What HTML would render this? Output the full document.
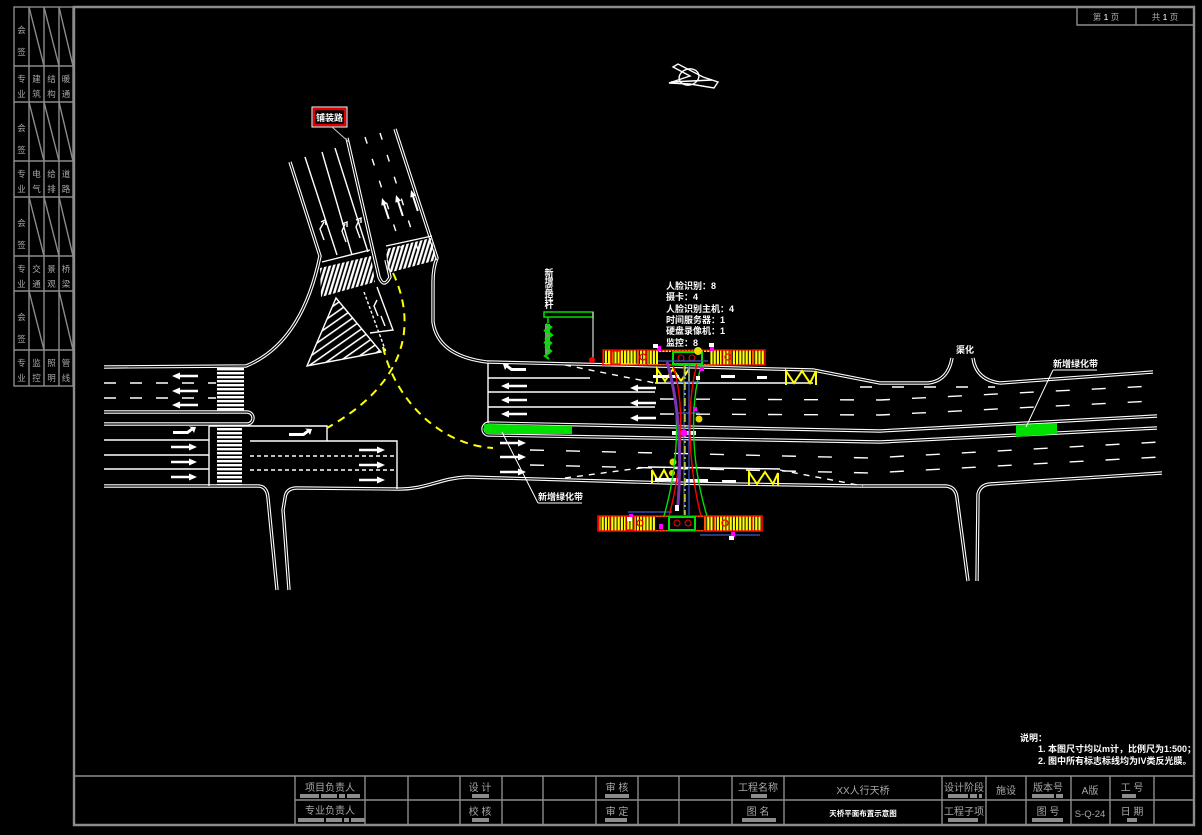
<!DOCTYPE html>
<html><head><meta charset="utf-8"><style>
html,body{margin:0;padding:0;background:#000;}
svg{display:block}
text{font-family:"Liberation Sans","Noto Sans CJK SC",sans-serif;}
.c1{stroke:#fff;stroke-width:3.4;fill:none}
.c2{stroke:#000;stroke-width:1.2;fill:none}
.w{stroke:#fff;stroke-width:1.4;fill:none}
.g{stroke:#8c8c8c;stroke-width:1.4;fill:none}
.gt{fill:#a8a8a8;font-size:10px}
.st{fill:#a8a8a8;font-size:8.5px}
.wt{fill:#fff;font-size:9px;font-weight:bold}
.y{stroke:#ffff00;stroke-width:2;fill:none;stroke-dasharray:8 6}
</style></head><body>
<svg width="1202" height="835" viewBox="0 0 1202 835" xmlns="http://www.w3.org/2000/svg">
<defs>
<pattern id="zh" width="4" height="4" patternUnits="userSpaceOnUse"><rect x="0" y="0" width="4" height="2.4" fill="#fff"/></pattern>
<pattern id="zs" width="4" height="4" patternUnits="userSpaceOnUse" patternTransform="rotate(17)"><rect x="0" y="0" width="2.4" height="4" fill="#fff"/></pattern>
<pattern id="hatch" width="7" height="7" patternUnits="userSpaceOnUse" patternTransform="rotate(-35)"><rect x="0" y="0" width="7" height="1.6" fill="#fff"/></pattern>
<pattern id="stair" width="3.2" height="10" patternUnits="userSpaceOnUse"><rect x="0" y="0" width="2.2" height="10" fill="#ffff00"/></pattern>
<path id="aL" d="M0,0 L8,-3.5 L8,-1.2 L26,-1.2 L26,1.2 L8,1.2 L8,3.5 Z" fill="#fff"/>
<path id="aR" d="M26,0 L18,-3.5 L18,-1.2 L0,-1.2 L0,1.2 L18,1.2 L18,3.5 Z" fill="#fff"/>
<path id="aU" d="M0,0 L-3,7 L-1,7 L-1,22 L1,22 L1,7 L3,7 Z" fill="#fff"/>
<path id="aT" d="M0,-1 L14,-1 L18,-4 L16,-5.5 L23,-5 L21,1 L19.5,-1.5 L15,2 L0,2 Z" fill="#fff"/>
<path id="p1" d="M104,367 L246,366 Q302,343 320,256 L290,162"/>
<path id="p2" d="M104,412 L247,412 A6,6 0 0 1 247,424 L104,424"/>
<path id="p3" d="M104,486 L258,486 Q267,486 268,498 L277,590"/>
<path id="p4" d="M289,590 L284,522 L283,510 L285,498 Q286,488 297,488 L397,489 C425,490 440,478 467,477 L670,483 L860,486 L946,486 Q956,487 957,498 L968,581"/>
<path id="p5" d="M977,581 L978,494 Q980,485 990,484 L1162,473"/>
<path id="p6" d="M395,129 L437,258 Q433,268 433,282 L433,322 Q438,356 487,362 L660,366 L813,370 L880,383 L928,383 Q948,381 952,358"/>
<path id="p7" d="M973,358 Q976,380 1000,383 L1153,372"/>
<path id="p8" d="M1157,416 L880,431 L489,423 A6,6 0 0 0 489,435 L880,442 L1157,428"/>
<path id="p9" d="M347,138 L379,277 Q384,289 390,277 L386,260"/>
</defs>
<rect width="1202" height="835" fill="#000"/>

<!-- left strip -->
<g class="g" stroke-width="1.3">
<rect x="14" y="7" width="59" height="379"/>
<path d="M29,7V386 M44,7V386 M59,7V386 M14,66H73 M14,102H73 M14,161H73 M14,197H73 M14,256H73 M14,291H73 M14,350H73"/>
<path d="M29,7L44,66 M44,7L59,66 M59,7L73,66 M29,102L44,161 M44,102L59,161 M59,102L73,161 M29,197L44,256 M44,197L59,256 M59,197L73,256 M29,291L44,350 M59,291L73,350"/>
</g>
<g class="st" text-anchor="middle">
<text x="21.5" y="33">会</text><text x="21.5" y="55">签</text>
<text x="21.5" y="131">会</text><text x="21.5" y="153">签</text>
<text x="21.5" y="226">会</text><text x="21.5" y="248">签</text>
<text x="21.5" y="320">会</text><text x="21.5" y="342">签</text>
<text x="21.5" y="82">专</text><text x="21.5" y="97">业</text>
<text x="36.5" y="82">建</text><text x="36.5" y="97">筑</text>
<text x="51.5" y="82">结</text><text x="51.5" y="97">构</text>
<text x="66" y="82">暖</text><text x="66" y="97">通</text>
<text x="21.5" y="177">专</text><text x="21.5" y="192">业</text>
<text x="36.5" y="177">电</text><text x="36.5" y="192">气</text>
<text x="51.5" y="177">给</text><text x="51.5" y="192">排</text>
<text x="66" y="177">道</text><text x="66" y="192">路</text>
<text x="21.5" y="272">专</text><text x="21.5" y="287">业</text>
<text x="36.5" y="272">交</text><text x="36.5" y="287">通</text>
<text x="51.5" y="272">景</text><text x="51.5" y="287">观</text>
<text x="66" y="272">桥</text><text x="66" y="287">梁</text>
<text x="21.5" y="366">专</text><text x="21.5" y="381">业</text>
<text x="36.5" y="366">监</text><text x="36.5" y="381">控</text>
<text x="51.5" y="366">照</text><text x="51.5" y="381">明</text>
<text x="66" y="366">管</text><text x="66" y="381">线</text>
</g>

<!-- frame -->
<path d="M74,7 H1194 V825 H74 Z" stroke="#8c8c8c" stroke-width="2.4" fill="none"/>
<!-- page box -->
<path class="g" d="M1077,7 V25 H1194 M1136,7 V25" stroke-width="2"/>
<text x="1106" y="20" class="st" text-anchor="middle" font-size="9">第 <tspan fill="#fff">1</tspan> 页</text>
<text x="1165" y="20" class="st" text-anchor="middle" font-size="9">共 <tspan fill="#fff">1</tspan> 页</text>

<!-- title block -->
<path class="g" d="M74,776 H1194 M295,800 H1194 M295,776 V825 M365,776V825 M408,776V825 M460,776V825 M502,776V825 M543,776V825 M596,776V825 M638,776V825 M679,776V825 M732,776V825 M784,776V825 M942,776V825 M986,776V825 M1026,776V825 M1071,776V825 M1110,776V825 M1154,776V825"/>
<g class="gt" text-anchor="middle">
<text x="330" y="791">项目负责人</text>
<text x="480" y="791">设 计</text>
<text x="617" y="791">审 核</text>
<text x="758" y="791">工程名称</text>
<text x="863" y="794">XX人行天桥</text>
<text x="964" y="791">设计阶段</text>
<text x="1006" y="794">施设</text>
<text x="1048" y="791">版本号</text>
<text x="1090" y="794">A版</text>
<text x="1132" y="791">工 号</text>
<text x="330" y="814">专业负责人</text>
<text x="480" y="815">校 核</text>
<text x="617" y="815">审 定</text>
<text x="758" y="815">图 名</text>
<text x="964" y="815">工程子项</text>
<text x="1048" y="815">图 号</text>
<text x="1090" y="817" font-size="9.5">S-Q-24</text>
<text x="1132" y="815">日 期</text>
</g>
<text x="863" y="816" fill="#fff" font-size="7.5" font-weight="bold" text-anchor="middle">天桥平面布置示意图</text>
<g fill="#8c8c8c">
<rect x="300" y="794" width="19" height="4"/><rect x="321" y="794" width="16" height="4"/><rect x="339" y="794" width="6" height="4"/><rect x="347" y="794" width="13" height="4"/>
<rect x="472" y="794" width="17" height="4"/><rect x="605" y="794" width="24" height="4"/><rect x="751" y="794" width="16" height="4"/>
<rect x="948" y="794" width="20" height="4"/><rect x="970" y="794" width="7" height="4"/><rect x="979" y="794" width="3" height="4"/>
<rect x="1032" y="794" width="22" height="4"/><rect x="1056" y="794" width="7" height="4"/><rect x="1122" y="794" width="14" height="4"/>
<rect x="298" y="818" width="26" height="4"/><rect x="326" y="818" width="16" height="4"/><rect x="344" y="818" width="5" height="4"/><rect x="351" y="818" width="14" height="4"/>
<rect x="472" y="818" width="17" height="4"/><rect x="605" y="818" width="22" height="4"/><rect x="742" y="818" width="34" height="4"/>
<rect x="948" y="818" width="30" height="4"/><rect x="1032" y="818" width="31" height="4"/><rect x="1127" y="818" width="10" height="4"/>
</g>

<!-- curbs -->
<g class="c1"><use href="#p1"/><use href="#p2"/><use href="#p3"/><use href="#p4"/><use href="#p5"/><use href="#p6"/><use href="#p7"/><use href="#p8"/><use href="#p9"/></g>
<g class="c2"><use href="#p1"/><use href="#p2"/><use href="#p3"/><use href="#p4"/><use href="#p5"/><use href="#p6"/><use href="#p7"/><use href="#p8"/><use href="#p9"/></g>

<!-- west road -->
<rect x="217" y="368" width="27" height="43" fill="url(#zh)"/>
<rect x="217" y="428" width="25" height="57" fill="url(#zh)"/>
<path class="w" d="M104,383 H216 M104,398 H216" stroke-dasharray="12 14" stroke-width="1.8"/>
<path class="w" d="M209,426 H327 V441 M250,441 H397 V489 M209,426 V486 M104,440 H209 M104,455 H209 M104,469 H209"/>
<path class="w" d="M250,456 H397 M250,470 H397" stroke-dasharray="4 3" stroke-width="1.6"/>
<use href="#aL" transform="translate(172,376)"/><use href="#aL" transform="translate(172,391)"/><use href="#aL" transform="translate(172,405)"/>
<use href="#aT" transform="translate(173,432)"/><use href="#aT" transform="translate(289,434)"/>
<use href="#aR" transform="translate(171,447)"/><use href="#aR" transform="translate(171,462)"/><use href="#aR" transform="translate(171,477)"/>
<use href="#aR" transform="translate(359,450)"/><use href="#aR" transform="translate(359,465)"/><use href="#aR" transform="translate(359,480)"/>

<!-- NW road -->
<path class="w" d="M305,157 L337,255 M322,152 L352,255 M335,148 L368,252" stroke-width="1.6"/>
<path class="w" d="M365,137 L402,250 M380,133 L418,250" stroke-dasharray="7 16" stroke-width="1.8"/>
<use href="#aU" transform="translate(382,198) rotate(-18)"/><use href="#aU" transform="translate(396,195) rotate(-18)"/><use href="#aU" transform="translate(411,190) rotate(-18)"/>
<path class="w" stroke-width="2" d="M324,240 L320,229 L324,222 M321,222 L325,220 L326,225 M346,242 L342,231 L345,224 M342,224 L347,222 L347,227 M360,238 L356,227 L359,220 M356,220 L361,218 L361,223"/>
<polygon points="320,268 371,256 375,282 321,297" fill="url(#zs)"/>
<polygon points="386,249 431,238 437,260 388,273" fill="url(#zs)"/>
<path class="w" d="M322,262 L370,250 M386,246 L432,236"/>
<polygon points="336,298 307,366 381,352" fill="url(#hatch)" stroke="#fff" stroke-width="1.4"/>
<path class="w" d="M377,287 L393,330 L370,333"/>
<path class="w" d="M364,292 L386,352" stroke-dasharray="3 2"/>
<path class="w" stroke-width="2" d="M378,316 L374,306 L377,300 M385,326 L381,316"/>

<!-- yellow turning paths -->
<path class="y" d="M393,273 C415,320 412,380 327,428"/>
<path class="y" d="M383,347 C395,400 440,445 493,448"/>

<!-- east road -->
<path class="w" d="M488,363 V423 M488,378 H590 M488,392 H655 M488,407 H655 M655,383 H813 M648,467 L780,469"/>
<path class="w" d="M565,365 L655,383 M565,478 L648,467 M780,470 L863,486" stroke-width="2.6" stroke-dasharray="6 6"/>
<path class="w" d="M860,387 L995,387" stroke-width="2" stroke-dasharray="12 20"/>
<path class="w" d="M660,399 L880,400 L1153,386 M660,414 L880,415 L1153,401 M530,450 L870,458 L1160,442 M530,465 L870,473 L1160,457" stroke-width="2" stroke-dasharray="14 22"/>
<path d="M484,425 Q484,424 489,424 L572,426 L572,434 L489,434 Q484,434 484,429 Z" fill="#00e000"/>
<polygon points="1016,425 1057,423 1057,434 1016,437" fill="#00e000"/>
<use href="#aL" transform="translate(501,386)"/><use href="#aL" transform="translate(501,400)"/><use href="#aL" transform="translate(501,414)"/>
<use href="#aT" transform="translate(526,369) scale(-1,1)"/>
<use href="#aL" transform="translate(630,388)"/><use href="#aL" transform="translate(630,403)"/><use href="#aL" transform="translate(630,418)"/>
<use href="#aR" transform="translate(500,443)"/><use href="#aR" transform="translate(500,457)"/><use href="#aR" transform="translate(500,472)"/>
<g stroke="#ffff00" stroke-width="2" fill="none">
<path d="M657,383 V369 L665,381 L673,369 L681,381 L689,369 V383"/>
<path d="M786,385 V371 L794,383 L802,371 L810,383 L816,371 V385"/>
<path d="M652,483 V470 L658,481 L664,470 L670,482"/>
<path d="M749,486 V472 L757,484 L765,472 L773,484 L778,473 V486"/>
</g>
<g fill="#fff">
<rect x="653" y="375" width="26" height="3"/><rect x="721" y="375" width="14" height="3"/><rect x="757" y="376" width="10" height="3"/>
<rect x="655" y="478" width="24" height="3"/><rect x="686" y="479" width="22" height="3"/><rect x="722" y="480" width="14" height="3"/>
<rect x="672" y="431" width="24" height="4"/>
</g>

<!-- bridge stairs -->
<rect x="603" y="350" width="162" height="15" fill="url(#stair)"/>
<rect x="603" y="350" width="162" height="15" fill="none" stroke="#ff0000" stroke-width="1.2"/>
<g fill="none" stroke="#ff0000" stroke-width="1.3">
<rect x="603" y="350" width="8" height="15"/><rect x="612" y="351" width="8" height="13"/><rect x="638" y="350" width="9" height="15"/><rect x="722" y="350" width="9" height="15"/><rect x="753" y="350" width="12" height="15"/>
<circle cx="643" cy="357" r="3"/><circle cx="728" cy="357" r="3"/>
<rect x="598" y="516" width="164" height="15"/>
</g>
<rect x="598" y="516" width="164" height="15" fill="url(#stair)"/>
<g fill="none" stroke="#ff0000" stroke-width="1.3">
<rect x="598" y="516" width="164" height="15"/>
<rect x="599" y="516" width="11" height="15"/><rect x="626" y="517" width="8" height="13"/><rect x="705" y="516" width="9" height="15"/><rect x="752" y="516" width="10" height="15"/>
<circle cx="640" cy="523" r="3"/><circle cx="725" cy="523" r="3"/>
</g>
<rect x="658" y="352" width="52" height="12" fill="#000"/>
<rect x="656" y="517" width="48" height="13" fill="#000"/>
<rect x="673" y="352" width="29" height="12" fill="none" stroke="#00e000" stroke-width="2"/>
<rect x="669" y="517" width="26" height="13" fill="none" stroke="#00e000" stroke-width="2"/>
<g fill="none" stroke="#ff0000" stroke-width="1"><circle cx="681" cy="358" r="3"/><circle cx="692" cy="358" r="3"/><circle cx="677" cy="523" r="3"/><circle cx="688" cy="523" r="3"/></g>
<circle cx="698" cy="351" r="4" fill="#e8d800"/>
<circle cx="699" cy="419" r="3.5" fill="#e8d800"/>
<circle cx="673" cy="462" r="3.5" fill="#e8d800"/>
<circle cx="672" cy="473" r="3" fill="#e8d800"/>

<!-- bridge structure -->
<path d="M658,361 H708 M667,382 H700 M676,413 H700 M628,512 H672 M700,535 H760 M684,365 V515 M689,365 V515" stroke="#3a5bd0" stroke-width="1.2" fill="none"/>
<path d="M668,365 C680,400 680,460 664,516 M702,364 C690,400 690,460 707,516" stroke="#00e000" stroke-width="1.4" fill="none"/>
<path d="M673,365 C684,400 684,460 669,516 M697,364 C687,400 687,460 701,516" stroke="#ff0000" stroke-width="1.4" fill="none"/>
<path d="M667,362 Q684,420 678,505" stroke="#7a35b0" stroke-width="3" fill="none"/>
<path d="M685,366 V515" stroke="#ffff00" stroke-width="1.2" stroke-dasharray="8 3 2 3" fill="none"/>
<circle cx="684" cy="433" r="3.5" fill="#ff00ff"/>
<g fill="#ff00ff"><rect x="657" y="346" width="4" height="5"/><rect x="710" y="346" width="4" height="5"/><rect x="659" y="524" width="4" height="5"/><rect x="731" y="532" width="4" height="5"/><rect x="629" y="514" width="4" height="4"/><rect x="700" y="367" width="4" height="4"/><rect x="693" y="407" width="4" height="4"/></g>
<g fill="#fff"><rect x="653" y="344" width="5" height="4"/><rect x="709" y="343" width="5" height="4"/><rect x="627" y="517" width="5" height="4"/><rect x="729" y="536" width="5" height="4"/><rect x="675" y="505" width="4" height="6"/><rect x="696" y="376" width="4" height="4"/></g>

<!-- signal pole -->
<rect x="544" y="312" width="49" height="5" fill="none" stroke="#00e000" stroke-width="1.5"/>
<path d="M593,312 V359" stroke="#c8c8c8" stroke-width="1.3"/>
<circle cx="592" cy="360" r="3" fill="#ff0000"/>
<path d="M548,317 V323" stroke="#00e000" stroke-width="1.5"/>
<rect x="545" y="324" width="5" height="30" fill="#888"/>
<path d="M546,324 L551,327 L547,331 L552,335 L546,339 L551,343 L546,347 L551,351 L545,356 L549,359 M544,330 L548,333 M544,342 L549,345" stroke="#00e000" stroke-width="2.2" fill="none"/>
<g class="wt" font-size="8" text-anchor="middle">
<text x="549" y="276">新</text><text x="549" y="284">增</text><text x="549" y="292">监</text><text x="549" y="300">控</text><text x="549" y="308">杆</text>
</g>

<!-- annotations -->
<g class="wt">
<text x="666" y="289">人脸识别：8</text>
<text x="666" y="300">摄卡：4</text>
<text x="666" y="312">人脸识别主机：4</text>
<text x="666" y="323">时间服务器：1</text>
<text x="666" y="334">硬盘录像机：1</text>
<text x="666" y="346">监控：8</text>
</g>
<rect x="312" y="107" width="35" height="20" fill="#000" stroke="#fff" stroke-width="1"/>
<rect x="314" y="109" width="31" height="16" fill="none" stroke="#e00000" stroke-width="2.5"/>
<text x="329.5" y="121" class="wt" font-size="10" text-anchor="middle">铺装路</text>
<path d="M332,127 L350,143" stroke="#c8c8c8" stroke-width="1"/>
<text x="956" y="353" class="wt" font-size="10">渠化</text>
<text x="1053" y="367" class="wt">新增绿化带</text>
<path d="M1053,370 H1097 M1053,370 L1026,427" stroke="#fff" stroke-width="1"/>
<text x="538" y="500" class="wt">新增绿化带</text>
<path d="M538,503 H582 M538,503 L502,432" stroke="#fff" stroke-width="1"/>

<!-- compass -->
<g stroke="#fff" stroke-width="1.4" fill="none">
<ellipse cx="689" cy="77" rx="10" ry="8" transform="rotate(-15 689 77)"/>
<path d="M669,83 L690,76 L673,67 L678,64 L703,77 L718,82 L714,88 L690,84 Z"/>
<path d="M671,82 L712,80"/>
</g>

<!-- notes -->
<text x="1020" y="741" class="wt">说明：</text>
<text x="1038" y="752" class="wt" font-size="8.5">1. 本图尺寸均以m计，比例尺为1:500；</text>
<text x="1038" y="764" class="wt" font-size="8.5">2. 图中所有标志标线均为IV类反光膜。</text>
</svg>
</body></html>
